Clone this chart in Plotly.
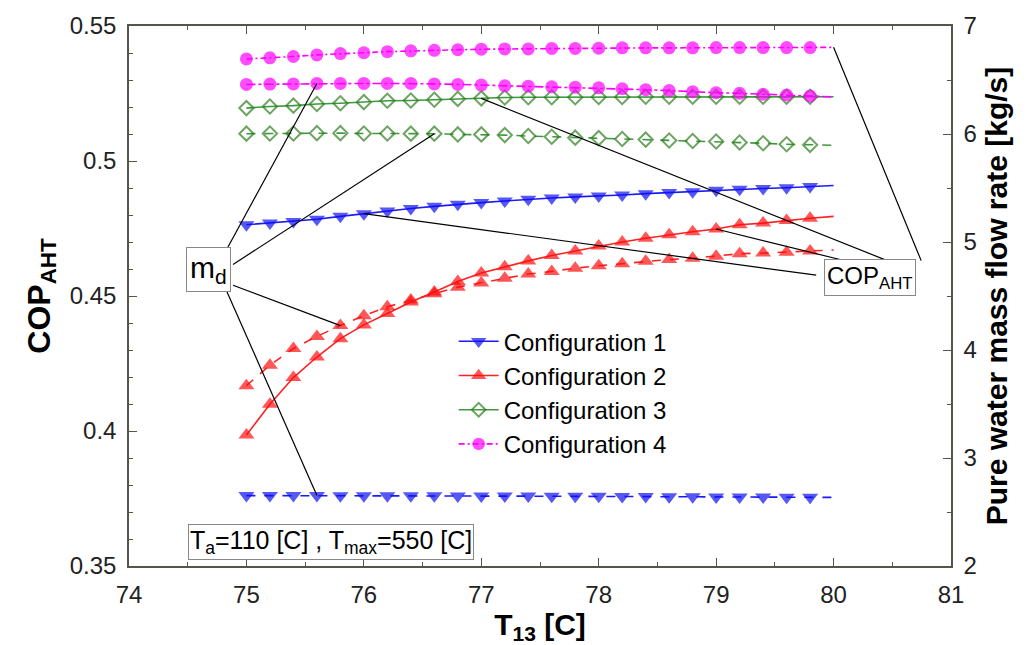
import plotly.graph_objects as go

# Outlet temperature T13 [C]; the last entry is the line end point (no marker)
T13 = [75.0, 75.2, 75.4, 75.6, 75.8, 76.0, 76.2, 76.4, 76.6, 76.8, 77.0, 77.2, 77.4,
       77.6, 77.8, 78.0, 78.2, 78.4, 78.6, 78.8, 79.0, 79.2, 79.4, 79.6, 79.8, 80.0]

# COP of the absorption heat transformer (left axis)
cop_1 = [0.4764, 0.4770, 0.4776, 0.4784, 0.4795, 0.4805, 0.4815, 0.4824, 0.4832, 0.4840,
         0.4846, 0.4852, 0.4858, 0.4863, 0.4867, 0.4870, 0.4874, 0.4879, 0.4883, 0.4886,
         0.4892, 0.4895, 0.4898, 0.4901, 0.4906, 0.4909]
cop_2 = [0.3985, 0.4099, 0.4198, 0.4274, 0.4342, 0.4393, 0.4435, 0.4478, 0.4515, 0.4554,
         0.4585, 0.4608, 0.4630, 0.4650, 0.4667, 0.4685, 0.4700, 0.4714, 0.4727, 0.4738,
         0.4748, 0.4764, 0.4770, 0.4780, 0.4788, 0.4795]
cop_3 = [0.5196, 0.5202, 0.5205, 0.5211, 0.5214, 0.5218, 0.5223, 0.5224, 0.5227, 0.5230,
         0.5232, 0.5235, 0.5236, 0.5236, 0.5236, 0.5237, 0.5237, 0.5238, 0.5238, 0.5238,
         0.5238, 0.5238, 0.5238, 0.5238, 0.5238, 0.5238]
cop_4 = [0.5378, 0.5382, 0.5387, 0.5393, 0.5398, 0.5401, 0.5405, 0.5408, 0.5410, 0.5412,
         0.5414, 0.5415, 0.5415, 0.5417, 0.5417, 0.5418, 0.5419, 0.5419, 0.5419, 0.5419,
         0.5420, 0.5420, 0.5420, 0.5420, 0.5420, 0.5421]

# Pure water mass flow rate m_d [kg/s] (right axis)
md_1 = [2.652, 2.652, 2.652, 2.652, 2.651, 2.651, 2.651, 2.650, 2.650, 2.649,
        2.649, 2.648, 2.647, 2.646, 2.645, 2.645, 2.644, 2.643, 2.642, 2.641,
        2.640, 2.639, 2.638, 2.637, 2.636, 2.635]
md_2 = [3.670, 3.859, 4.014, 4.126, 4.226, 4.318, 4.400, 4.464, 4.521, 4.582,
        4.621, 4.664, 4.703, 4.728, 4.758, 4.780, 4.799, 4.822, 4.838, 4.849,
        4.868, 4.892, 4.897, 4.904, 4.917, 4.926]
md_3 = [6.003, 6.005, 6.005, 6.008, 6.008, 6.005, 6.005, 6.003, 6.003, 5.996,
        5.996, 5.990, 5.981, 5.975, 5.966, 5.962, 5.954, 5.948, 5.940, 5.935,
        5.930, 5.921, 5.914, 5.905, 5.899, 5.896]
md_4 = [6.459, 6.462, 6.464, 6.468, 6.468, 6.468, 6.468, 6.468, 6.464, 6.459,
        6.453, 6.446, 6.443, 6.437, 6.434, 6.428, 6.419, 6.410, 6.402, 6.391,
        6.382, 6.377, 6.368, 6.361, 6.352, 6.343]

names = ["Configuration 1", "Configuration 2", "Configuration 3", "Configuration 4"]

FONT = "Liberation Sans, Arial, sans-serif"
AXIS_COLOR = "#55554a"

styles = [
    dict(color="#1a1aff", symbol="triangle-down", size=14, mline=0, mcolor="#1010f0",
         cop_dash="solid", md_dash="dash"),
    dict(color="#ff2020", symbol="triangle-up", size=14, mline=0, mcolor="#ff1010",
         cop_dash="solid", md_dash="dash"),
    dict(color="#3c9a3c", symbol="diamond-open", size=11, mline=2, mcolor="#2e7d1e",
         cop_dash="solid", md_dash="dash"),
    dict(color="#ff00ff", symbol="circle", size=13, mline=0, mcolor="#ff00ff",
         cop_dash="6px,3px,2px,3px", md_dash="dashdot"),
]


def marker_sizes(n, size):
    # every data point carries a marker except the closing line point
    return [size] * (n - 1) + [0]


fig = go.Figure()

cops = [cop_1, cop_2, cop_3, cop_4]
mds = [md_1, md_2, md_3, md_4]

for name, cop, md, st in zip(names, cops, mds, styles):
    marker = dict(symbol=st["symbol"], size=marker_sizes(len(T13), st["size"]),
                  color=st["mcolor"], line=dict(width=st["mline"], color=st["mcolor"]))
    fig.add_trace(go.Scatter(
        x=T13, y=cop, name=name, legendgroup=name, mode="lines+markers",
        line=dict(color=st["color"], width=1.6, dash=st["cop_dash"]),
        marker=marker, yaxis="y"))
    fig.add_trace(go.Scatter(
        x=T13, y=md, name=name, legendgroup=name, showlegend=False,
        mode="lines+markers",
        line=dict(color=st["color"], width=1.6, dash=st["md_dash"]),
        marker=marker, yaxis="y2"))

# Leader lines from the label boxes to the curves
shapes = []
md_leaders = [  # (box x, box y on right axis, series, index)
    (74.835, 4.938, md_4, 3),
    (74.886, 4.792, md_3, 8),
    (74.886, 4.600, md_2, 4),
    (74.835, 4.537, md_1, 3),
]
for bx, by, series, i in md_leaders:
    shapes.append(dict(type="line", xref="x", yref="y2", x0=bx, y0=by,
                       x1=T13[i], y1=series[i], line=dict(color="black", width=1.2)))

cop_leaders = [  # (box x, box y on left axis, series, index)
    (80.746, 0.4631, cop_4, 25),
    (80.457, 0.4631, cop_3, 10),
    (79.852, 0.4577, cop_1, 5),
    (80.158, 0.4624, cop_2, 20),
]
for bx, by, series, i in cop_leaders:
    shapes.append(dict(type="line", xref="x", yref="y", x0=bx, y0=by,
                       x1=T13[i], y1=series[i], line=dict(color="black", width=1.2)))

box = dict(bordercolor="#888888", borderwidth=1, bgcolor="white", showarrow=False,
           xref="x", yref="y")
annotations = [
    dict(x=74.677, y=0.4599, text="m<sub>d</sub>", font=dict(size=30, family=FONT, color="black"),
         borderpad=3, **box),
    dict(x=80.307, y=0.4568, text="COP<sub>AHT</sub>", font=dict(size=24, family=FONT, color="black"),
         borderpad=2, **box),
    dict(x=75.72, y=0.3589, text="T<sub>a</sub>=110 [C] , T<sub>max</sub>=550 [C]",
         font=dict(size=25, family=FONT, color="black"), borderpad=1, **box),
]

axis_common = dict(
    showline=True, linecolor=AXIS_COLOR, linewidth=1.5, ticks="inside", ticklen=8,
    tickwidth=1.2, tickcolor=AXIS_COLOR, showgrid=False, zeroline=False,
    tickfont=dict(size=24, family=FONT, color="#222222"),
)

fig.update_layout(
    width=1028, height=645,
    margin=dict(l=129, r=77, t=20, b=77),
    paper_bgcolor="white", plot_bgcolor="white",
    font=dict(family=FONT, color="black"),
    showlegend=True,
    legend=dict(x=0.395, y=0.457, xanchor="left", yanchor="top",
                bgcolor="rgba(0,0,0,0)", font=dict(size=24, family=FONT, color="black"),
                tracegroupgap=0, itemwidth=40),
    xaxis=dict(range=[74, 81], dtick=1, mirror="ticks",
               minor=dict(dtick=0.5, ticks="inside", ticklen=4, tickcolor=AXIS_COLOR),
               title=dict(text="<b>T<sub>13</sub> [C]</b>", font=dict(size=30, family=FONT),
                          standoff=4),
               ticklabelstandoff=6, **axis_common),
    yaxis=dict(range=[0.35, 0.55], dtick=0.05,
               minor=dict(dtick=0.01, ticks="inside", ticklen=4, tickcolor=AXIS_COLOR),
               title=dict(text="<b>COP<sub>AHT</sub></b>", font=dict(size=32, family=FONT),
                          standoff=10),
               ticklabelstandoff=6, **axis_common),
    yaxis2=dict(range=[2, 7], dtick=1, overlaying="y", side="right",
                minor=dict(dtick=0.5, ticks="inside", ticklen=4, tickcolor=AXIS_COLOR),
                title=dict(text="<b>Pure water mass flow rate [kg/s]</b>",
                           font=dict(size=30, family=FONT), standoff=10),
                ticklabelstandoff=6, **axis_common),
    shapes=shapes,
    annotations=annotations,
)

fig.write_html("out.html")
